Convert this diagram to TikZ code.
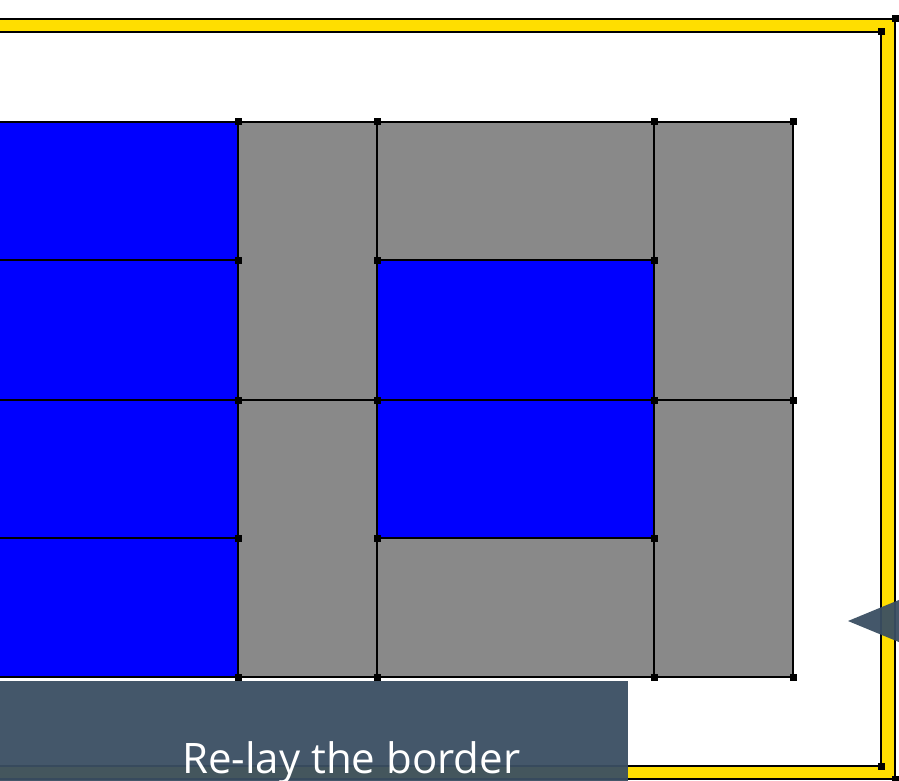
\documentclass[tikz,border=0pt]{standalone}
\usepackage{fontspec}
\setmainfont{Open Sans}
\usetikzlibrary{positioning}
\definecolor{slate}{RGB}{58,79,99}
\definecolor{cellgray}{RGB}{137,137,137}
\definecolor{frameyellow}{RGB}{255,222,0}

\tikzset{
  bluecell/.style={fill=blue, draw=black, line width=2.4pt},
  graycell/.style={fill=cellgray, draw=black, line width=2.4pt},
  vtx/.style={rectangle, fill=black, inner sep=0pt, minimum size=7pt},
}

\begin{document}
\begin{tikzpicture}[x=1pt,y=-1pt]
  \useasboundingbox (0,0) rectangle (899,781);
  \clip (0,0) rectangle (899,781);
  \fill[white] (0,0) rectangle (899,781);

  % yellow border
  \fill[frameyellow, even odd rule] (-20,19) rectangle (895,779) (-20,32) rectangle (881,766);
  \draw[line width=2.8pt] (-20,19) -- (895,19) -- (895,779) -- (-20,779);
  \draw[line width=2.2pt] (-20,32) -- (881,32) -- (881,766) -- (-20,766);
  \foreach \px/\py in {895/19, 881/32, 881/766, 895/779}
    \node[vtx] (b-\px-\py) at (\px,\py) {};

  % cells
  \draw[bluecell] (-20,122) rectangle (238,260);
  \draw[bluecell] (-20,260) rectangle (238,400);
  \draw[bluecell] (-20,400) rectangle (238,538);
  \draw[bluecell] (-20,538) rectangle (238,677);
  \draw[graycell] (238,122) rectangle (377,400);
  \draw[graycell] (238,400) rectangle (377,677);
  \draw[graycell] (377,122) rectangle (654,260);
  \draw[bluecell] (377,260) rectangle (654,400);
  \draw[bluecell] (377,400) rectangle (654,538);
  \draw[graycell] (377,538) rectangle (654,677);
  \draw[graycell] (654,122) rectangle (793,400);
  \draw[graycell] (654,400) rectangle (793,677);

  % corner marks
  \foreach \px in {238, 377, 654}
    \foreach \py in {122, 260, 400, 538, 677}
      \node[vtx] (v-\px-\py) at (\px,\py) {};
  \foreach \py in {122, 400, 677}
    \node[vtx] (v-793-\py) at (793,\py) {};

  % caption box and pointer
  \fill[slate, fill opacity=0.95] (-20,681) rectangle (628,800);
  \coordinate (tip) at (848,621);
  \fill[slate, fill opacity=0.95] (tip) -- (940,583) -- (940,659) -- cycle;
  \node[anchor=base west, inner sep=0pt, text=white,
        font=\fontsize{42}{50}\selectfont] (caption) at (182,773) {Re-lay the border};
\end{tikzpicture}
\end{document}
